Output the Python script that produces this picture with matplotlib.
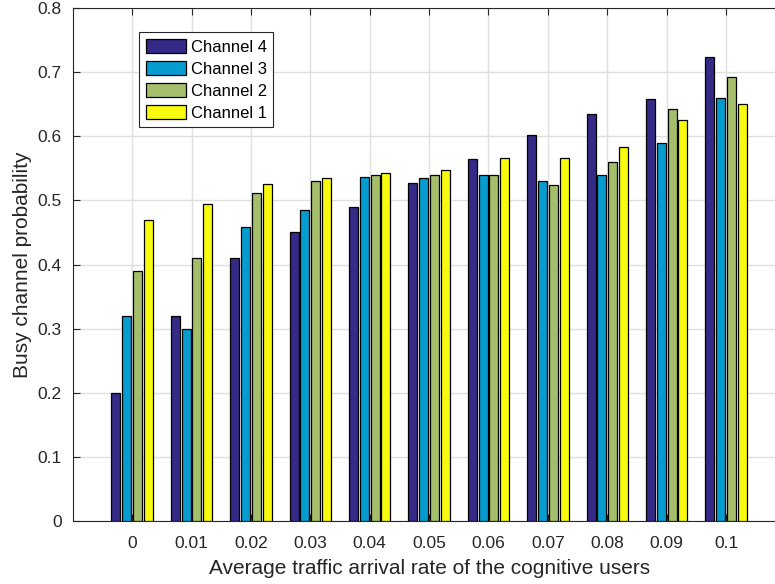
import numpy as np
import matplotlib
matplotlib.use("Agg")
from matplotlib import pyplot as plt

plt.rcParams["font.family"] = ["Liberation Sans", "DejaVu Sans"]

# traffic arrival rates (x positions of the groups)
rates = [0, 0.01, 0.02, 0.03, 0.04, 0.05, 0.06, 0.07, 0.08, 0.09, 0.1]
rate_labels = ["0", "0.01", "0.02", "0.03", "0.04", "0.05", "0.06", "0.07", "0.08", "0.09", "0.1"]

# busy channel probability per channel
ch4 = [0.200, 0.320, 0.410, 0.450, 0.490, 0.528, 0.565, 0.602, 0.635, 0.659, 0.724]
ch3 = [0.320, 0.300, 0.458, 0.485, 0.536, 0.535, 0.540, 0.531, 0.540, 0.590, 0.660]
ch2 = [0.390, 0.410, 0.512, 0.530, 0.539, 0.539, 0.540, 0.524, 0.560, 0.642, 0.693]
ch1 = [0.470, 0.495, 0.525, 0.535, 0.543, 0.548, 0.566, 0.567, 0.583, 0.626, 0.650]

series = [("Channel 4", ch4, "#352A87"),
          ("Channel 3", ch3, "#079CCF"),
          ("Channel 2", ch2, "#A5BE6B"),
          ("Channel 1", ch1, "#F9FB0E")]

fig = plt.figure(figsize=(7.75, 5.84), dpi=100)
ax = fig.add_axes([72.7 / 775, 1 - 520.7 / 584, 712.8 / 775, 512.4 / 584])

x = np.array(rates)
step = 0.00182
width = 0.00150
for i, (name, vals, col) in enumerate(series):
    ax.bar(x + (i - 1.5) * step, vals, width=width, color=col,
           edgecolor="black", linewidth=0.9, label=name, zorder=3)

ax.set_xlim(-0.01, 0.11)
ax.set_ylim(0, 0.8)
ax.set_xticks(rates)
ax.set_xticklabels(rate_labels)
ax.set_yticks(np.arange(0, 0.81, 0.1))
ax.set_yticklabels(["0", "0.1", "0.2", "0.3", "0.4", "0.5", "0.6", "0.7", "0.8"])

ax.grid(True, color="#dfdfdf", linewidth=1.0, zorder=0)
ax.set_axisbelow(True)
for s in ax.spines.values():
    s.set_color("#262626")
    s.set_linewidth(0.8)
ax.tick_params(direction="in", top=True, right=True, length=5, width=0.8,
               colors="#262626", labelsize=12.5)
ax.tick_params(axis="x", pad=11)
ax.tick_params(axis="y", pad=8)

ax.set_xlabel("Average traffic arrival rate of the cognitive users",
              fontsize=15, color="#262626", labelpad=6)
ax.set_ylabel("Busy channel probability", fontsize=15, color="#262626",
              labelpad=4)

leg = ax.legend(loc="upper left", bbox_to_anchor=(0.093, 0.954),
                borderaxespad=0, fontsize=12, fancybox=False,
                framealpha=1, edgecolor="#262626", handlelength=2.4,
                handleheight=1.0, labelspacing=0.35, handletextpad=0.3,
                borderpad=0.4)
leg.get_frame().set_linewidth(0.8)

fig.savefig("out.png", dpi=100)
